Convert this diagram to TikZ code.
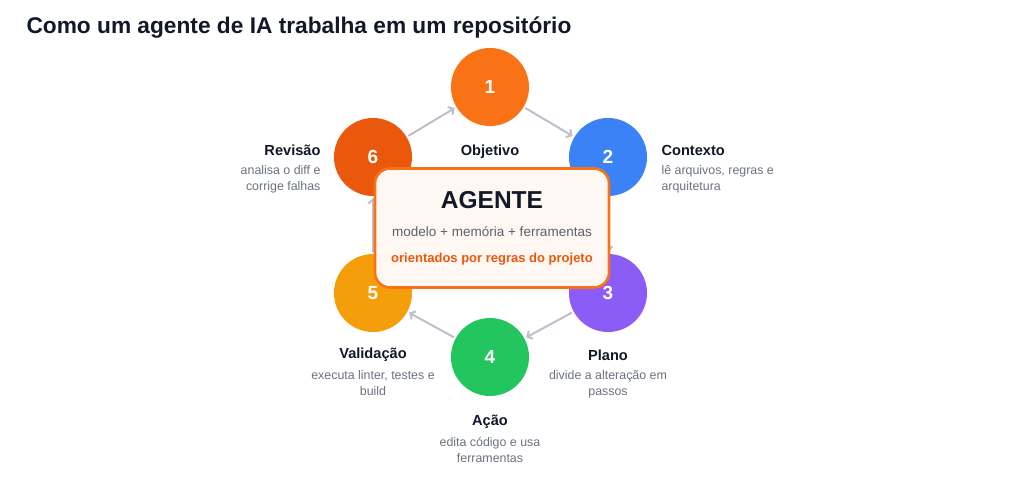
\documentclass[tikz,border=0pt]{standalone}
\usepackage{fontspec}
\setmainfont{Liberation Sans}
\usetikzlibrary{arrows.meta}

\definecolor{tinta}{HTML}{111827}
\definecolor{cinza}{HTML}{6B7280}
\definecolor{seta}{HTML}{BCBFCC}
\definecolor{laranja}{HTML}{F97316}
\definecolor{azul}{HTML}{3B82F6}
\definecolor{roxo}{HTML}{8B5CF6}
\definecolor{verde}{HTML}{22C55E}
\definecolor{ambar}{HTML}{F59E0B}
\definecolor{telha}{HTML}{EA580C}
\definecolor{creme}{HTML}{FFF8F2}

\tikzset{
    passo/.style={circle, minimum size=78pt, inner sep=0pt, text=white,
        font=\fontsize{19}{19}\selectfont\bfseries},
    fluxo/.style={-{Straight Barb[length=4pt,width=9pt]}, seta, line width=2pt,
        shorten >=2pt, shorten <=2pt},
    titulo/.style={font=\fontsize{14.6}{16}\selectfont\bfseries, text=tinta},
    desc/.style={font=\fontsize{12.4}{15.5}\selectfont, text=cinza}
}

\begin{document}
\begin{tikzpicture}[x=1pt, y=-1pt]
    \useasboundingbox[fill=white] (0, 0) rectangle (1024, 491);

    % titulo
    \node[anchor=west, text=tinta, font=\fontsize{22.7}{26}\selectfont\bfseries] (cab) at (23, 28)
        {Como um agente de IA trabalha em um repositório};

    % os seis passos
    \node[passo, fill=laranja] (p1) at (490, 87) {1};
    \node[passo, fill=azul] (p2) at (608, 157) {2};
    \node[passo, fill=roxo] (p3) at (608, 293) {3};
    \node[passo, fill=verde] (p4) at (490, 357) {4};
    \node[passo, fill=ambar] (p5) at (373, 293) {5};
    \node[passo, fill=telha] (p6) at (373, 157) {6};

    % o ciclo
    \draw[fluxo] (p1) -- (p2);
    \draw[fluxo] (p2) -- (p3);
    \draw[fluxo] (p3) -- (p4);
    \draw[fluxo] (p4) -- (p5);
    \draw[fluxo] (p5) -- (p6);
    \draw[fluxo] (p6) -- (p1);

    % nomes dos passos
    \node[titulo] (t1) at (490, 152) {Objetivo};

    \node[titulo, anchor=west] (t2) at (658, 150) {Contexto};
    \node[desc, anchor=north west, align=left] (d2) at (658, 162) {lê arquivos, regras e\\arquitetura};

    \node[titulo] (t3) at (608, 355) {Plano};
    \node[desc, anchor=north, align=center] (d3) at (608, 367) {divide a alteração em\\passos};

    \node[titulo] (t4) at (490, 422) {Ação};
    \node[desc, anchor=north, align=center] (d4) at (490, 434) {edita código e usa\\ferramentas};

    \node[titulo] (t5) at (373, 355) {Validação};
    \node[desc, anchor=north, align=center] (d5) at (373, 367) {executa linter, testes e\\build};

    \node[titulo, anchor=east] (t6) at (324, 150) {Revisão};
    \node[desc, anchor=north east, align=right] (d6) at (324, 162) {analisa o diff e\\corrige falhas};

    % caixa central
    \node[draw=laranja, fill=creme, line width=2.6pt, rounded corners=15pt,
        minimum width=234pt, minimum height=119pt] (agente) at (492, 228) {};
    \node[text=tinta, font=\fontsize{24.5}{25}\selectfont\bfseries] (nome) at (492, 200) {AGENTE};
    \node[text=cinza!85!black, font=\fontsize{13.5}{15}\selectfont] (partes) at (492, 232)
        {modelo + memória + ferramentas};
    \node[text=telha, font=\fontsize{13}{15}\selectfont\bfseries] (regras) at (492, 259)
        {orientados por regras do projeto};
\end{tikzpicture}
\end{document}
